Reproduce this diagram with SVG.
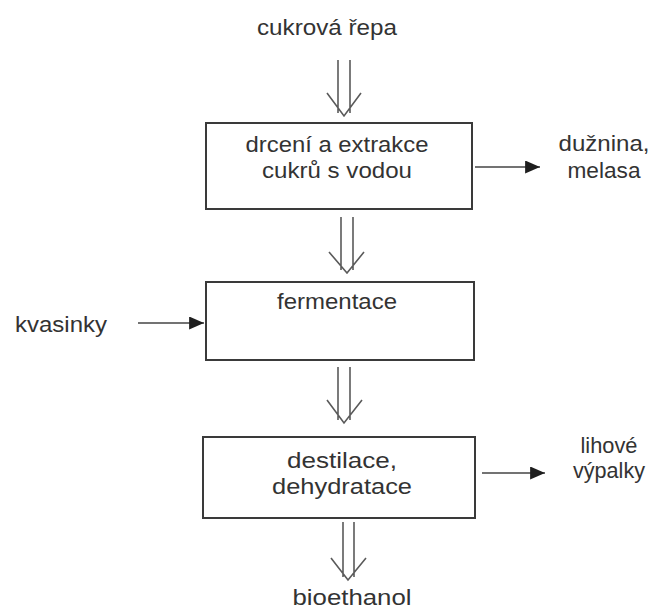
<svg xmlns="http://www.w3.org/2000/svg" width="653" height="612" viewBox="0 0 653 612">
<defs>
<style>
text{font-family:"Liberation Sans",Arial,sans-serif;font-size:22px;fill:#333;text-anchor:middle}
.box{fill:#fff;stroke:#3a3a3a;stroke-width:2}
.dbl{fill:none;stroke:#5a5a5a;stroke-width:1.6}
.lin{fill:none;stroke:#444;stroke-width:1.4}
</style>
<marker id="ah" viewBox="0 0 16 14" refX="16" refY="7" markerWidth="15" markerHeight="13" markerUnits="userSpaceOnUse" orient="auto">
<path d="M0,0 L16,7 L0,14 Z" fill="#1e1e1e"/>
</marker>
</defs>
<rect width="653" height="612" fill="#fff"/>
<g id="label-input">
<text x="327" y="35" textLength="140" lengthAdjust="spacingAndGlyphs">cukrová řepa</text>
</g>
<g id="node-drceni">
<rect class="box" x="206" y="123" width="266" height="86"/>
<text x="337" y="152" textLength="183" lengthAdjust="spacingAndGlyphs">drcení a extrakce</text>
<text x="337" y="178" textLength="150" lengthAdjust="spacingAndGlyphs">cukrů s vodou</text>
</g>
<g id="label-duznina">
<text x="604" y="151" textLength="91" lengthAdjust="spacingAndGlyphs">dužnina,</text>
<text x="604" y="178" textLength="73" lengthAdjust="spacingAndGlyphs">melasa</text>
</g>
<g id="label-kvasinky">
<text x="61" y="332" textLength="92" lengthAdjust="spacingAndGlyphs">kvasinky</text>
</g>
<g id="node-fermentace">
<rect class="box" x="206" y="282" width="268" height="78"/>
<text x="337" y="309" textLength="120" lengthAdjust="spacingAndGlyphs">fermentace</text>
</g>
<g id="node-destilace">
<rect class="box" x="203" y="437" width="272" height="81"/>
<text x="342" y="468" textLength="110" lengthAdjust="spacingAndGlyphs">destilace,</text>
<text x="342" y="494" textLength="140" lengthAdjust="spacingAndGlyphs">dehydratace</text>
</g>
<g id="label-lihove">
<text x="609" y="453" textLength="57" lengthAdjust="spacingAndGlyphs">lihové</text>
<text x="609" y="478" textLength="72" lengthAdjust="spacingAndGlyphs">výpalky</text>
</g>
<g id="label-bioethanol">
<text x="352" y="605" textLength="119" lengthAdjust="spacingAndGlyphs">bioethanol</text>
</g>
<g id="connectors">
<path class="dbl" d="M338,60 V113 M350,60 V113 M327,93 L344,116 L361,93"/>
<path class="dbl" d="M341,217 V270 M353,217 V270 M329,252 L347,273 L364,252"/>
<path class="dbl" d="M338,367 V420 M350,367 V420 M327,400 L344,423 L362,400"/>
<path class="dbl" d="M343,522 V577 M354,522 V577 M331,558 L348,580 L366,558"/>
<line class="lin" x1="475" y1="167" x2="540" y2="167" marker-end="url(#ah)"/>
<line class="lin" x1="138" y1="323" x2="204" y2="323" marker-end="url(#ah)"/>
<line class="lin" x1="482" y1="473" x2="545" y2="473" marker-end="url(#ah)"/>
</g>
</svg>
